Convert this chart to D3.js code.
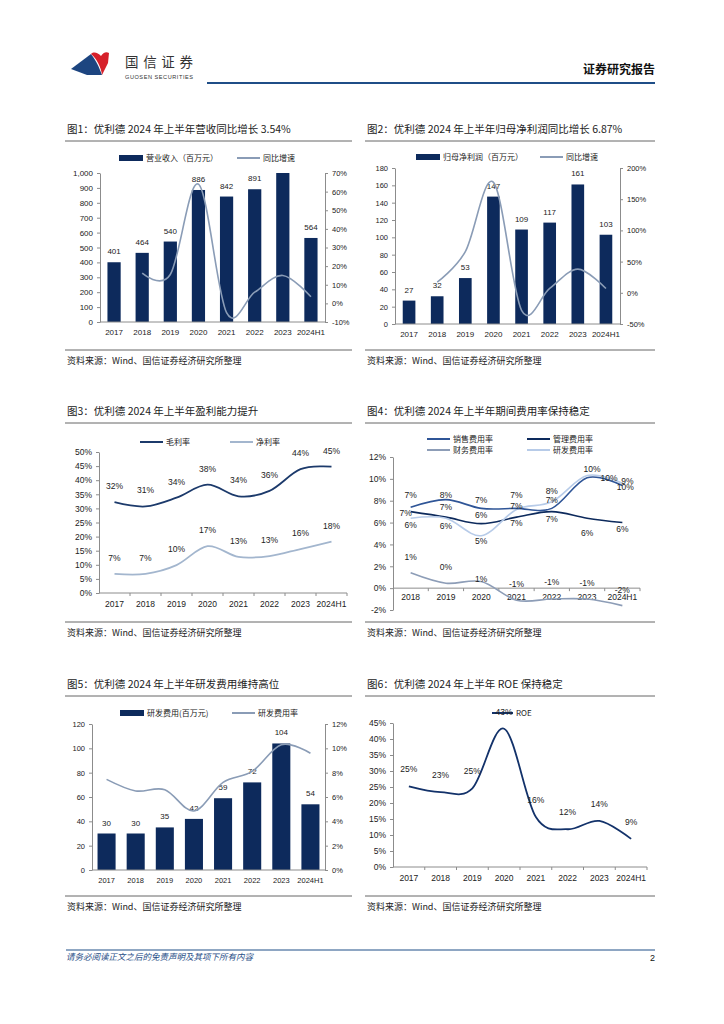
<!DOCTYPE html>
<html>
<head>
<meta charset="utf-8">
<script src="https://cdn.jsdelivr.net/npm/d3@7"></script>
<style>
  body { margin: 0; background: #fff; }
</style>
</head>
<body>
<div id="page"></div>
<script>
// ---- data ----
var years = ["2017", "2018", "2019", "2020", "2021", "2022", "2023", "2024H1"];
var years4 = ["2018", "2019", "2020", "2021", "2022", "2023", "2024H1"];

// fig 1: revenue (mn yuan) and yoy growth (%)
var revenue = [401, 464, 540, 886, 842, 891, 1025, 564];
var revenueYoy = [null, 16.2, 15.5, 64, -5, 6, 15, 3.54];
var revTicks = [0, 100, 200, 300, 400, 500, 600, 700, 800, 900, 1000];
var revYoyTicks = [-10, 0, 10, 20, 30, 40, 50, 60, 70];

// fig 2: net profit attributable (mn yuan) and yoy growth (%)
var profit = [27, 32, 53, 147, 109, 117, 161, 103];
var profitYoy = [null, 17, 66, 177, -28, 7, 38, 6.87];
var profitTicks = [0, 20, 40, 60, 80, 100, 120, 140, 160, 180];
var profitYoyTicks = [-50, 0, 50, 100, 150, 200];

// fig 3: margins (%)
var grossMargin = [32.2, 30.7, 33.8, 38.4, 34.3, 36.2, 43.9, 44.8];
var netMargin = [6.8, 6.8, 9.9, 16.6, 12.8, 13.1, 15.6, 18.2];
var marginTicks = [0, 5, 10, 15, 20, 25, 30, 35, 40, 45, 50];

// fig 4: expense ratios (%)
var salesRate = [7.4, 8.1, 7.3, 7.3, 7.3, 10.1, 9.4];
var adminRate = [7.0, 6.5, 5.9, 6.5, 7.0, 6.4, 6.0];
var financeRate = [1.4, 0.45, 0.6, -1.1, -1.0, -1.0, -1.6];
var researchRate = [6.4, 6.4, 4.8, 7.2, 7.9, 10.3, 9.6];
var expenseTicks = [-2, 0, 2, 4, 6, 8, 10, 12];

// fig 5: R&D expense (mn yuan) and R&D ratio (%)
var rdExpense = [30, 30, 35, 42, 59, 72, 104, 54];
var rdRatio = [7.45, 6.5, 6.6, 4.85, 7.2, 8.1, 10.3, 9.6];
var rdTicks = [0, 20, 40, 60, 80, 100, 120];
var rdRatioTicks = [0, 2, 4, 6, 8, 10, 12];

// fig 6: ROE (%)
var roe = [25.2, 23.4, 24.6, 43.2, 15.6, 11.8, 14.4, 8.8];
var roeTicks = [0, 5, 10, 15, 20, 25, 30, 35, 40, 45];

// label nudges for fig 4 (px, the report places them by hand)
var nudge4 = {
  sales:    {dx: [0, 0, 0, 0, 0, 22, 5],  dy: [-9, -2, -5, -10, -5, 3, -1]},
  admin:    {dx: [-5, 0, 0, 0, 0, 0, 0],  dy: [4, -7, -6, 9, 10, 18, 9]},
  finance:  {dx: [0, 0, 0, 0, 0, 0, 0],   dy: [-13, -13, 0, -13, -14, -13, -13]},
  research: {dx: [0, 0, 0, 0, 0, 5, 3],   dy: [10, 11, 8, 0, -8, -4, 7]}
};

var W = 724, H = 1024;
var CJK = '"Noto Sans CJK SC", "Noto Sans", sans-serif';
var NUM = '"Liberation Sans", Arial, sans-serif';
var NAVY = "#0d2a5c";
var GREYBLUE = "#8a9cb6";
var AXIS = "#8c8c8c";

var svg = d3.select("#page").append("svg")
  .attr("width", W)
  .attr("height", H)
  .style("background", "#fff");

// ---- header ----
svg.append("path")
  .attr("d", "M71,69 L91,54 C95,59 98,65 100,70 L102,75 L87,75 Z")
  .attr("fill", "#1d4580");
svg.append("path")
  .attr("d", "M91,54 C94,51 98,53 101,56 C103,53 106,51 109,53 L108,63 C106,67 104,71 102,75 C101,67 97,59 91,54 Z")
  .attr("fill", "#d6202a");
svg.append("text").attr("x", 125).attr("y", 67)
  .style("font-family", CJK).style("font-size", "13.5px").attr("fill", "#333")
  .attr("textLength", 68).text("国信证券");
svg.append("text").attr("x", 125).attr("y", 79)
  .style("font-family", NUM).style("font-size", "5.6px").attr("fill", "#333")
  .attr("textLength", 68).text("GUOSEN SECURITIES");
svg.append("text").attr("x", 655).attr("y", 74).attr("text-anchor", "end")
  .style("font-family", CJK).style("font-size", "12px").style("font-weight", "bold").attr("fill", "#111")
  .text("证券研究报告");
svg.append("line").attr("x1", 207).attr("x2", 655).attr("y1", 83).attr("y2", 83)
  .attr("stroke", "#1f4e87").attr("stroke-width", 2);

// ---- footer ----
svg.append("line").attr("x1", 66).attr("x2", 655).attr("y1", 950).attr("y2", 950)
  .attr("stroke", "#1f4e87").attr("stroke-width", 1);
svg.append("text").attr("x", 66).attr("y", 960)
  .style("font-family", CJK).style("font-size", "8.5px").style("font-style", "italic").attr("fill", "#1f4e87")
  .text("请务必阅读正文之后的免责声明及其项下所有内容");
svg.append("text").attr("x", 655).attr("y", 961).attr("text-anchor", "end")
  .style("font-family", NUM).style("font-size", "9px").attr("fill", "#111").text("2");

// ---- helpers ----
function frame(x0, x1, yTitle, title, yBottom) {
  svg.append("text").attr("x", x0 + 2).attr("y", yTitle)
    .style("font-family", CJK).style("font-size", "10.5px").attr("fill", "#222").text(title);
  svg.append("line").attr("x1", x0).attr("x2", x1).attr("y1", yTitle + 8).attr("y2", yTitle + 8)
    .attr("stroke", "#666").attr("stroke-width", 1);
  svg.append("line").attr("x1", x0).attr("x2", x1).attr("y1", yBottom).attr("y2", yBottom)
    .attr("stroke", "#666").attr("stroke-width", 1);
  svg.append("text").attr("x", x0 + 2).attr("y", yBottom + 14)
    .style("font-family", CJK).style("font-size", "9px").attr("fill", "#222")
    .text("资料来源：Wind、国信证券经济研究所整理");
}

function styleAxis(g, size) {
  g.select(".domain").attr("stroke", AXIS);
  g.selectAll(".tick line").attr("stroke", AXIS);
  g.selectAll(".tick text").style("font-family", NUM).style("font-size", size).attr("fill", "#222");
}

function leftAxis(scale, x, ticks, fmt, size) {
  var g = svg.append("g").attr("transform", "translate(" + x + ",0)")
    .call(d3.axisLeft(scale).tickValues(ticks).tickFormat(fmt).tickSize(3).tickSizeOuter(0).tickPadding(4));
  styleAxis(g, size);
  return g;
}

function rightAxis(scale, x, ticks, fmt, size) {
  var g = svg.append("g").attr("transform", "translate(" + x + ",0)")
    .call(d3.axisRight(scale).tickValues(ticks).tickFormat(fmt).tickSize(3).tickSizeOuter(0).tickPadding(4));
  styleAxis(g, size);
  return g;
}

// category axis: line at yLine, labels at yLabel, ticks at band boundaries
function bandAxis(x, yLine, yLabel, size, withTicks) {
  var r = x.range();
  svg.append("line").attr("x1", r[0]).attr("x2", r[1]).attr("y1", yLine).attr("y2", yLine)
    .attr("stroke", AXIS).attr("stroke-width", 1);
  if (withTicks) {
    var bounds = x.domain().map(function(d) { return x(d) + x.step(); });
    svg.selectAll(null).data(bounds).enter().append("line")
      .attr("x1", function(d) { return d; }).attr("x2", function(d) { return d; })
      .attr("y1", yLine).attr("y2", yLine + 3)
      .attr("stroke", AXIS);
  }
  svg.selectAll(null).data(x.domain()).enter().append("text")
    .attr("x", function(d) { return x(d) + x.bandwidth() / 2; })
    .attr("y", yLabel)
    .attr("text-anchor", "middle")
    .style("font-family", NUM).style("font-size", size).attr("fill", "#222")
    .text(function(d) { return d; });
}

function bars(x, y, cats, vals, widthFrac, maxV) {
  var bw = x.bandwidth() * widthFrac;
  var pts = vals.map(function(v, i) { return {c: cats[i], v: v}; });
  svg.selectAll(null).data(pts).enter().append("rect")
    .attr("x", function(p) { return x(p.c) + (x.bandwidth() - bw) / 2; })
    .attr("y", function(p) { return y(Math.min(p.v, maxV)); })
    .attr("width", bw)
    .attr("height", function(p) { return y(0) - y(Math.min(p.v, maxV)); })
    .attr("fill", NAVY);
  // labels that would sit above the plot top are clipped away in the report
  svg.selectAll(null).data(pts.filter(function(p) { return p.v <= maxV; })).enter().append("text")
    .attr("x", function(p) { return x(p.c) + x.bandwidth() / 2; })
    .attr("y", function(p) { return y(p.v) - 8; })
    .attr("text-anchor", "middle")
    .style("font-family", NUM).style("font-size", "8px").attr("fill", "#222")
    .text(function(p) { return p.v; });
}

function line(x, y, cats, vals, color, width) {
  var pts = vals.map(function(v, i) { return {c: cats[i], v: v}; }).filter(function(p) { return p.v != null; });
  var gen = d3.line()
    .x(function(p) { return x(p.c) + x.bandwidth() / 2; })
    .y(function(p) { return y(p.v); })
    .curve(d3.curveCardinal.tension(0));
  svg.append("path").datum(pts).attr("d", gen)
    .attr("fill", "none").attr("stroke", color).attr("stroke-width", width);
}

function pctLabels(x, y, cats, vals, dy, size, nudge) {
  svg.selectAll(null).data(vals).enter().append("text")
    .attr("x", function(d, i) { return x(cats[i]) + x.bandwidth() / 2 + (nudge ? nudge.dx[i] : 0); })
    .attr("y", function(d, i) { return y(d) + (nudge ? nudge.dy[i] : dy); })
    .attr("text-anchor", "middle")
    .style("font-family", NUM).style("font-size", size).attr("fill", "#222")
    .text(function(d) { return Math.round(d) + "%"; });
}

function legendBar(x, y, label) {
  svg.append("rect").attr("x", x).attr("y", y - 3).attr("width", 24).attr("height", 6).attr("fill", NAVY);
  svg.append("text").attr("x", x + 27).attr("y", y + 3)
    .style("font-family", CJK).style("font-size", "8px").attr("fill", "#222").text(label);
}

function legendLine(x, y, label, color, width, len) {
  len = len || 23;
  svg.append("line").attr("x1", x).attr("x2", x + len).attr("y1", y).attr("y2", y)
    .attr("stroke", color).attr("stroke-width", width);
  svg.append("text").attr("x", x + len + 3).attr("y", y + 3)
    .style("font-family", CJK).style("font-size", "8px").attr("fill", "#222").text(label);
}

var fmtInt = d3.format(",");
var fmtPct = function(d) { return d + "%"; };

// ---- fig 1 ----
frame(65, 352, 133, "图1：优利德 2024 年上半年营收同比增长 3.54%", 350);
var x1 = d3.scaleBand().domain(years).range([100, 325]);
var y1 = d3.scaleLinear().domain([0, 1000]).range([322, 173]);
var y1r = d3.scaleLinear().domain([-10, 70]).range([322, 173]);
leftAxis(y1, 100, revTicks, fmtInt, "8px");
rightAxis(y1r, 325, revYoyTicks, fmtPct, "7.5px");
bars(x1, y1, years, revenue, 0.47, 1000);
bandAxis(x1, 322, 335, "8px", false);
line(x1, y1r, years, revenueYoy, GREYBLUE, 1.6);
legendBar(119, 158, "营业收入（百万元）");
legendLine(237, 158, "同比增速", GREYBLUE, 2);

// ---- fig 2 ----
frame(365, 655, 133, "图2：优利德 2024 年上半年归母净利润同比增长 6.87%", 350);
var x2 = d3.scaleBand().domain(years).range([395, 620]);
var y2 = d3.scaleLinear().domain([0, 180]).range([324, 168]);
var y2r = d3.scaleLinear().domain([-50, 200]).range([324, 168]);
leftAxis(y2, 395, profitTicks, fmtInt, "7.5px");
rightAxis(y2r, 620, profitYoyTicks, fmtPct, "7.5px");
bars(x2, y2, years, profit, 0.45, 180);
bandAxis(x2, 324, 337, "8px", false);
line(x2, y2r, years, profitYoy, GREYBLUE, 1.6);
legendBar(416, 157, "归母净利润（百万元）");
legendLine(540, 157, "同比增速", GREYBLUE, 2);

// ---- fig 3 ----
frame(65, 352, 415, "图3：优利德 2024 年上半年盈利能力提升", 622);
var x3 = d3.scaleBand().domain(years).range([99, 347]);
var y3 = d3.scaleLinear().domain([0, 50]).range([593, 452]);
leftAxis(y3, 99, marginTicks, fmtPct, "8.5px");
bandAxis(x3, 593, 607, "8.5px", true);
line(x3, y3, years, grossMargin, "#1c3a6b", 1.8);
line(x3, y3, years, netMargin, "#a3b6ce", 1.8);
pctLabels(x3, y3, years, grossMargin, -13, "8.5px");
pctLabels(x3, y3, years, netMargin, -13, "8.5px");
legendLine(140, 442, "毛利率", "#1c3a6b", 2);
legendLine(230, 442, "净利率", "#a3b6ce", 2);

// ---- fig 4 ----
frame(365, 655, 415, "图4：优利德 2024 年上半年期间费用率保持稳定", 622);
var x4 = d3.scaleBand().domain(years4).range([393, 640]);
var y4 = d3.scaleLinear().domain([-2, 12]).range([610, 457]);
leftAxis(y4, 393, expenseTicks, fmtPct, "8.5px");
bandAxis(x4, y4(0), y4(0) + 12, "8.5px", true);
line(x4, y4, years4, financeRate, "#8d9db7", 1.6);
line(x4, y4, years4, adminRate, "#0d2a5c", 1.6);
line(x4, y4, years4, researchRate, "#b7cbe8", 1.6);
line(x4, y4, years4, salesRate, "#2f5597", 1.6);
pctLabels(x4, y4, years4, salesRate, 0, "8.5px", nudge4.sales);
pctLabels(x4, y4, years4, adminRate, 0, "8.5px", nudge4.admin);
pctLabels(x4, y4, years4, financeRate, 0, "8.5px", nudge4.finance);
pctLabels(x4, y4, years4, researchRate, 0, "8.5px", nudge4.research);
legendLine(427, 439, "销售费用率", "#2f5597", 2);
legendLine(527, 439, "管理费用率", "#0d2a5c", 2);
legendLine(427, 450, "财务费用率", "#8d9db7", 2);
legendLine(527, 450, "研发费用率", "#b7cbe8", 2);

// ---- fig 5 ----
frame(65, 352, 688, "图5：优利德 2024 年上半年研发费用维持高位", 896);
var x5 = d3.scaleBand().domain(years).range([92, 325]);
var y5 = d3.scaleLinear().domain([0, 120]).range([870, 724]);
var y5r = d3.scaleLinear().domain([0, 12]).range([870, 724]);
leftAxis(y5, 92, rdTicks, fmtInt, "7.5px");
rightAxis(y5r, 325, rdRatioTicks, fmtPct, "7.5px");
bars(x5, y5, years, rdExpense, 0.62, 120);
bandAxis(x5, 870, 883, "7.5px", false);
line(x5, y5r, years, rdRatio, GREYBLUE, 1.6);
legendBar(120, 713, "研发费用(百万元)");
legendLine(232, 713, "研发费用率", GREYBLUE, 2);

// ---- fig 6 ----
frame(365, 655, 688, "图6：优利德 2024 年上半年 ROE 保持稳定", 896);
var x6 = d3.scaleBand().domain(years).range([393, 647]);
var y6 = d3.scaleLinear().domain([0, 45]).range([867, 723]);
leftAxis(y6, 393, roeTicks, fmtPct, "8.5px");
bandAxis(x6, 867, 881, "8.5px", true);
line(x6, y6, years, roe, "#13326a", 1.8);
legendLine(492, 713, "ROE", "#13326a", 2, 21);
pctLabels(x6, y6, years, roe, -14, "8.5px");
</script>
</body>
</html>
